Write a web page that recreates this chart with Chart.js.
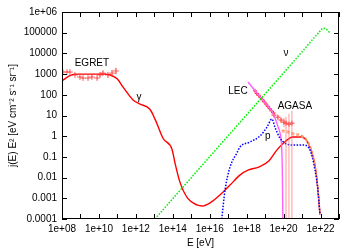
<!DOCTYPE html>
<html>
<head>
<meta charset="utf-8">
<script src="https://cdn.jsdelivr.net/npm/chart.js@4.4.1/dist/chart.umd.min.js"></script>
<style>
  html, body { margin: 0; padding: 0; background: #fff; }
  #wrap { width: 356px; height: 249px; }
</style>
</head>
<body>
<div id="wrap"><canvas id="chart"></canvas></div>
<script>
// values, as log10(E/eV) and log10(j E^2)
const xDecades = [8, 9, 10, 11, 12, 13, 14, 15, 16, 17, 18, 19, 20, 21, 22, 23];
const xTickLabels = ['1e+08', '', '1e+10', '', '1e+12', '', '1e+14', '', '1e+16', '', '1e+18', '', '1e+20', '', '1e+22', ''];
const yDecades = [-4, -3, -2, -1, 0, 1, 2, 3, 4, 5, 6];
const yTickLabels = ['0.0001', '0.001', '0.01', '0.1', '1', '10', '100', '1000', '10000', '100000', '1e+06'];

// gamma-ray flux (red solid)
const gammaLogE = [8.0, 8.4, 8.7, 9.5, 10.3, 10.6, 11.0, 11.3, 11.85, 12.2, 12.76, 13.05, 13.47, 13.96, 14.12, 14.39, 14.8, 15.3, 15.6, 16.0, 16.55, 17.1, 17.65, 18.1, 18.65, 19.2, 19.6, 20.0, 20.5, 20.95, 21.35, 21.75, 21.97];
const gammaLogF = [2.67, 2.91, 3.0, 3.0, 3.0, 2.96, 2.76, 2.38, 1.75, 1.56, 1.3, 0.8, -0.1, -0.64, -1.3, -2.23, -2.99, -3.32, -3.37, -3.23, -2.84, -2.36, -1.87, -1.63, -1.49, -1.2, -0.71, -0.33, -0.04, -0.04, -0.38, -1.68, -3.76];

// neutrino flux (green dotted)
const nuLogE = [13.03, 17.0, 21.0, 21.9, 22.15, 22.3, 22.5];
const nuLogF = [-4.0, 0.02, 4.08, 5.0, 5.22, 5.18, 5.0];

// proton flux (blue dotted)
const pLogE = [16.65, 16.83, 17.1, 17.47, 17.64, 18.18, 18.72, 19.1, 19.37, 19.53, 19.8, 20.07, 20.51, 21.05, 21.43, 21.7, 21.86, 21.97];
const pLogF = [-4.0, -2.6, -1.49, -0.81, -0.52, -0.28, 0.01, 0.44, 0.83, 0.44, -0.09, -0.33, -0.43, -0.43, -0.67, -1.63, -2.6, -3.8];

// fit to the LEC data (magenta)
const fitLogE = [18.07, 19.0, 19.42, 19.7, 19.84, 19.9, 19.93, 19.96];
const fitLogF = [2.62, 1.6, 1.12, 0.45, 0.0, -0.6, -1.6, -4.0];

// upper bands of the gamma flux (dashed)
const bandLogE = [19.9, 20.2, 20.51, 21.05, 21.43, 21.7, 21.85, 21.97];
const band1LogF = [0.3, 0.25, 0.15, 0.0, -0.45, -1.4, -2.4, -3.7];
const band2LogF = [0.22, 0.17, 0.07, -0.08, -0.52, -1.5, -2.5, -3.8];

// EGRET data with error (dex)
const egretLogE = [8.05, 8.27, 8.43, 8.7, 8.97, 9.14, 9.41, 9.62, 9.9, 10.06, 10.22, 10.49, 10.71, 10.92];
const egretLogF = [3.1, 3.1, 3.1, 2.96, 2.86, 2.81, 2.81, 2.86, 2.81, 2.96, 3.05, 2.96, 3.05, 3.15];
const egretErr = [0.06, 0.06, 0.06, 0.06, 0.06, 0.06, 0.06, 0.08, 0.08, 0.1, 0.1, 0.12, 0.14, 0.16];

// LEC data
const lecLogE = [18.45, 18.55, 18.65, 18.75, 18.85, 18.95, 19.05, 19.15, 19.25, 19.35, 19.45];
const lecLogF = [2.19, 2.06, 1.98, 1.86, 1.76, 1.66, 1.55, 1.44, 1.33, 1.22, 1.12];

// AGASA data, lower error of -5 means bar down to the axis
const agasaLogE = [19.48, 19.69, 19.86, 20.02, 20.13, 20.29, 20.45];
const agasaLogF = [1.02, 0.92, 0.78, 0.68, 0.63, 0.58, 0.63];
const agasaErrUp = [0.08, 0.1, 0.12, 0.2, 0.3, 0.5, 0.6];
const agasaErrDn = [0.08, 0.1, 0.14, 0.25, -5, -5, -5];

const labelTexts = ['EGRET', 'γ', 'ν', 'LEC', 'AGASA', 'p'];
const labelLogE = [9.62, 12.17, 20.13, 17.53, 20.61, 19.15];
const labelLogF = [3.54, 1.89, 4.02, 2.18, 1.46, 0.01];

const pts = (le, lf) => le.map((e, i) => ({ x: 10 ** e, y: 10 ** lf[i] }));

function curve(le, lf, color, dash, width) {
  return {
    data: pts(le, lf), showLine: true, borderColor: color, borderWidth: width || 1.4,
    borderDash: dash || [], pointRadius: 0, cubicInterpolationMode: 'monotone', fill: false
  };
}
function marks(le, lf, color, r) {
  return {
    data: pts(le, lf), showLine: false, pointStyle: 'cross', pointRadius: r,
    borderColor: color, borderWidth: 1, backgroundColor: color
  };
}

const FONT = 'Liberation Sans, Arial, sans-serif';

const decorPlugin = {
  id: 'decor',
  afterDatasetsDraw(chart) {
    const { ctx, chartArea: a, scales: { x, y } } = chart;
    ctx.save();
    // error bars
    ctx.lineWidth = 1;
    ctx.strokeStyle = 'rgba(255,80,80,0.75)';
    egretLogE.forEach((e, i) => {
      const px = x.getPixelForValue(10 ** e);
      const y1 = y.getPixelForValue(10 ** (egretLogF[i] + egretErr[i]));
      const y2 = y.getPixelForValue(10 ** (egretLogF[i] - egretErr[i]));
      ctx.beginPath(); ctx.moveTo(px, y1); ctx.lineTo(px, y2); ctx.stroke();
    });
    ctx.strokeStyle = 'rgba(255,110,110,0.7)';
    agasaLogE.forEach((e, i) => {
      const px = x.getPixelForValue(10 ** e);
      const y1 = y.getPixelForValue(10 ** (agasaLogF[i] + agasaErrUp[i]));
      const y2 = Math.min(a.bottom, y.getPixelForValue(10 ** (agasaLogF[i] - Math.abs(agasaErrDn[i]))));
      ctx.beginPath(); ctx.moveTo(px, y1); ctx.lineTo(px, y2); ctx.stroke();
    });
    // frame and inward ticks
    ctx.strokeStyle = '#000';
    ctx.lineWidth = 1;
    ctx.strokeRect(a.left + 0.5, a.top + 0.5, a.right - a.left - 1, a.bottom - a.top - 1);
    ctx.beginPath();
    x.ticks.forEach(t => {
      const px = Math.round(x.getPixelForValue(t.value)) + 0.5;
      ctx.moveTo(px, a.bottom); ctx.lineTo(px, a.bottom - 5);
      ctx.moveTo(px, a.top); ctx.lineTo(px, a.top + 5);
    });
    y.ticks.forEach(t => {
      const py = Math.round(y.getPixelForValue(t.value)) + 0.5;
      ctx.moveTo(a.left, py); ctx.lineTo(a.left + 5, py);
      ctx.moveTo(a.right, py); ctx.lineTo(a.right - 5, py);
    });
    ctx.stroke();
    // curve labels
    ctx.fillStyle = '#000';
    ctx.font = '10px ' + FONT;
    ctx.textAlign = 'center';
    ctx.textBaseline = 'middle';
    labelTexts.forEach((t, i) => {
      ctx.fillText(t, x.getPixelForValue(10 ** labelLogE[i]), y.getPixelForValue(10 ** labelLogF[i]));
    });
    ctx.restore();
  }
};

new Chart(document.getElementById('chart'), {
  type: 'scatter',
  data: {
    datasets: [
      curve(nuLogE, nuLogF, '#00ee00', [1.5, 1.5], 1.5),
      curve(pLogE, pLogF, '#0000ff', [1.5, 1.5], 1.5),
      curve(bandLogE, band2LogF, '#ffa080', [3, 2], 1.2),
      curve(bandLogE, band1LogF, '#ff8040', [3, 2], 1.2),
      curve(fitLogE, fitLogF, '#ff60ff', [], 1.4),
      curve(gammaLogE, gammaLogF, '#ff0000', [], 1.4),
      marks(egretLogE, egretLogF, 'rgba(255,70,70,0.8)', 3),
      marks(lecLogE, lecLogF, '#ff2020', 2),
      marks(agasaLogE, agasaLogF, '#ff3030', 2.5)
    ]
  },
  options: {
    responsive: true,
    maintainAspectRatio: false,
    animation: false,
    layout: { padding: { top: 12, right: 17, left: 0, bottom: 0 } },
    plugins: { legend: { display: false }, tooltip: { enabled: false } },
    scales: {
      x: {
        type: 'logarithmic', min: 1e8, max: 1e23,
        afterBuildTicks: s => { s.ticks = xDecades.map(d => ({ value: 10 ** d })); },
        afterFit: s => { s.height = 30; },
        grid: { display: false, drawTicks: false },
        border: { display: false },
        ticks: {
          autoSkip: false, maxRotation: 0, padding: 4, color: '#000',
          font: { family: FONT, size: 10 },
          callback: (v, i) => xTickLabels[i]
        },
        title: { display: true, text: 'E [eV]', color: '#000', font: { family: FONT, size: 10 }, padding: { top: 0, bottom: 0 } }
      },
      y: {
        type: 'logarithmic', min: 1e-4, max: 1e6,
        afterBuildTicks: s => { s.ticks = yDecades.map(d => ({ value: 10 ** d })); },
        afterFit: s => { s.width = 62; },
        grid: { display: false, drawTicks: false },
        border: { display: false },
        ticks: {
          autoSkip: false, padding: 5, color: '#000',
          font: { family: FONT, size: 10 },
          callback: (v, i) => yTickLabels[i]
        },
        title: { display: true, text: 'j(E) E² [eV cm⁻² s⁻¹ sr⁻¹]', color: '#000', font: { family: FONT, size: 10 }, padding: { top: 7, bottom: 0 } }
      }
    }
  },
  plugins: [decorPlugin]
});
</script>
</body>
</html>
